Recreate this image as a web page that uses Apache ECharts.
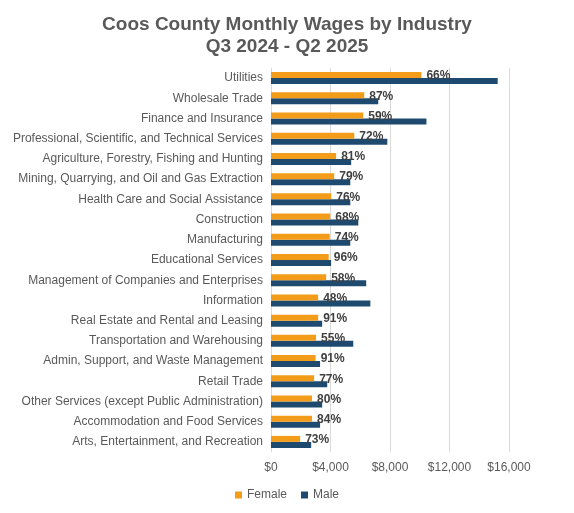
<!DOCTYPE html>
<html>
<head>
<meta charset="utf-8">
<script src="https://cdn.jsdelivr.net/npm/echarts@6/dist/echarts.min.js"></script>
<style>
  html, body { margin: 0; padding: 0; background: #fff; }
  #chart { width: 574px; height: 513px; }
</style>
</head>
<body>
<div id="chart"></div>
<script>
var industries = [
  'Utilities',
  'Wholesale Trade',
  'Finance and Insurance',
  'Professional, Scientific, and Technical Services',
  'Agriculture, Forestry, Fishing and Hunting',
  'Mining, Quarrying, and Oil and Gas Extraction',
  'Health Care and Social Assistance',
  'Construction',
  'Manufacturing',
  'Educational Services',
  'Management of Companies and Enterprises',
  'Information',
  'Real Estate and Rental and Leasing',
  'Transportation and Warehousing',
  'Admin, Support, and Waste Management',
  'Retail Trade',
  'Other Services (except Public Administration)',
  'Accommodation and Food Services',
  'Arts, Entertainment, and Recreation'
];
var female = [10110, 6270, 6200, 5600, 4380, 4250, 4050, 3980, 3950, 3880, 3710, 3170, 3170, 3030, 3000, 2900, 2760, 2760, 1960];
var male   = [15240, 7210, 10450, 7820, 5390, 5330, 5330, 5870, 5330, 4040, 6400, 6680, 3440, 5530, 3300, 3780, 3440, 3300, 2700];
var ratioLabels = ['66%', '87%', '59%', '72%', '81%', '79%', '76%', '68%', '74%', '96%', '58%', '48%', '91%', '55%', '91%', '77%', '80%', '84%', '73%'];
var xTicks = [0, 4000, 8000, 12000, 16000];

var myChart = echarts.init(document.getElementById('chart'));
var option = {
  animation: false,
  title: {
    text: 'Coos County Monthly Wages by Industry\nQ3 2024 - Q2 2025',
    left: 'center',
    top: 9,
    textStyle: {
      color: '#595959',
      fontSize: 19,
      fontWeight: 'bold',
      fontFamily: 'Liberation Sans, Arial, sans-serif',
      lineHeight: 22
    }
  },
  legend: {
    bottom: 7,
    left: 'center',
    icon: 'rect',
    itemWidth: 7,
    itemHeight: 7,
    itemGap: 14,
    textStyle: { color: '#595959', fontSize: 12, fontFamily: 'Liberation Sans, Arial, sans-serif' },
    data: ['Female', 'Male']
  },
  grid: { left: 271, right: 65, top: 68, bottom: 61 },
  xAxis: {
    type: 'value',
    min: xTicks[0],
    max: xTicks[xTicks.length - 1],
    interval: 4000,
    axisLine: { show: false },
    axisTick: { show: false },
    splitLine: { lineStyle: { color: '#d9d9d9', width: 1 } },
    axisLabel: {
      color: '#595959',
      fontSize: 12,
      fontFamily: 'Liberation Sans, Arial, sans-serif',
      margin: 10,
      formatter: function (v) { return '$' + v.toLocaleString('en-US'); }
    }
  },
  yAxis: {
    type: 'category',
    inverse: true,
    data: industries,
    axisLine: { show: true, lineStyle: { color: '#d9d9d9' } },
    axisTick: { show: false },
    axisLabel: {
      color: '#595959',
      fontSize: 12,
      fontFamily: 'Liberation Sans, Arial, sans-serif',
      margin: 8
    }
  },
  series: [
    {
      name: 'Female',
      type: 'bar',
      data: female,
      barWidth: 6,
      barGap: '0%',
      itemStyle: { color: '#F39C1A' },
      label: {
        show: true,
        position: 'right',
        distance: 5,
        offset: [0, 1],
        color: '#404040',
        fontSize: 12,
        fontWeight: 'bold',
        fontFamily: 'Liberation Sans, Arial, sans-serif',
        formatter: function (p) { return ratioLabels[p.dataIndex]; }
      },
      z: 3
    },
    {
      name: 'Male',
      type: 'bar',
      data: male,
      barWidth: 6,
      itemStyle: { color: '#1F4A70' },
      z: 2
    }
  ]
};
myChart.setOption(option);
</script>
</body>
</html>
